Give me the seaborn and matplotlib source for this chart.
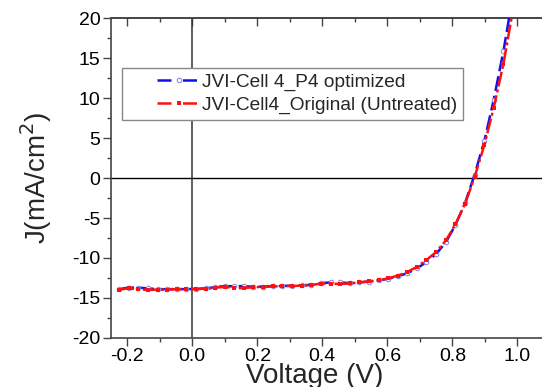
import numpy as np
import pandas as pd
import seaborn as sns
from matplotlib import pyplot as plt
from matplotlib.legend_handler import HandlerLine2D
from matplotlib.lines import Line2D
from matplotlib.ticker import MultipleLocator

# J-V data (voltage in V, current density in mA/cm2)
voltage = [-0.225, -0.196, -0.166, -0.137, -0.107, -0.078, -0.048, -0.019,
           0.011, 0.041, 0.070, 0.100, 0.129, 0.159, 0.188, 0.218, 0.247,
           0.277, 0.307, 0.336, 0.366, 0.395, 0.425, 0.454, 0.484, 0.513,
           0.543, 0.573, 0.602, 0.632, 0.661, 0.691, 0.720, 0.750, 0.780,
           0.809, 0.839, 0.868, 0.898, 0.927, 0.957, 0.986]

j_original = [-13.95, -13.8, -13.9, -14.0, -13.95, -13.95, -13.9, -13.9,
              -13.88, -13.85, -13.72, -13.6, -13.78, -13.75, -13.65, -13.6,
              -13.55, -13.52, -13.5, -13.45, -13.38, -13.2, -13.2, -13.25,
              -13.18, -13.05, -12.92, -12.78, -12.55, -12.2, -11.75, -11.1,
              -10.25, -9.25, -7.8, -5.8, -3.2, 0.1, 4.1, 8.8, 14.3, 21.0]

j_optimized = [-13.9, -13.7, -13.7, -13.8, -13.9, -13.9, -13.88, -13.9,
               -13.85, -13.8, -13.65, -13.5, -13.55, -13.5, -13.62, -13.58,
               -13.52, -13.5, -13.45, -13.42, -13.35, -13.15, -13.05, -13.05,
               -13.15, -13.05, -12.95, -12.8, -12.6, -12.3, -11.9, -11.3,
               -10.5, -9.5, -8.0, -5.9, -3.1, 0.4, 4.6, 9.8, 15.9, 22.8]

label_opt = "JVI-Cell 4_P4 optimized"
label_orig = "JVI-Cell4_Original (Untreated)"

blue = "#1010ee"
red = "#ff1010"

df = pd.DataFrame({"V": voltage + voltage,
                   "J": j_optimized + j_original,
                   "cell": [label_opt] * len(voltage) + [label_orig] * len(voltage)})

sns.set_style("ticks")
plt.rcParams["font.family"] = ["Liberation Sans", "DejaVu Sans"]
plt.rcParams["axes.unicode_minus"] = False

fig = plt.figure(figsize=(5.42, 3.87), dpi=100)
ax = fig.add_axes([111 / 542, 49 / 387, 439 / 542, 320 / 387])

ax.axhline(0, color="black", lw=1.0, zorder=1)
ax.axvline(0, color="#333333", lw=1.1, zorder=1)

sns.lineplot(data=df[df.cell == label_opt], x="V", y="J", ax=ax,
             color=blue, lw=1.8, sort=False,
             marker="o", markersize=3.2, markerfacecolor="white",
             markeredgecolor="#8a8ad8", markeredgewidth=0.8, zorder=3)
ax.lines[-1].set_dashes((6, 2.0))
sns.lineplot(data=df[df.cell == label_orig], x="V", y="J", ax=ax,
             color=red, lw=1.8, sort=False,
             marker="s", markersize=3.2, markeredgewidth=0, zorder=4)
ax.lines[-1].set_dashes((6, 1.2, 1.2, 1.2))

ax.set_xlim(-0.25, 1.1)
ax.set_ylim(-20, 20)
ax.xaxis.set_major_locator(MultipleLocator(0.2))
ax.xaxis.set_minor_locator(MultipleLocator(0.1))
ax.yaxis.set_major_locator(MultipleLocator(5))
ax.yaxis.set_minor_locator(MultipleLocator(2.5))
ax.set_xticks(ax.get_xticks())
ax.set_xticklabels([f"{t:.1f}" for t in ax.get_xticks()])
ax.set_xlim(-0.25, 1.1)

spine_col = "#444444"
for s in ax.spines.values():
    s.set_color(spine_col)
    s.set_linewidth(1.2)
ax.spines["right"].set_visible(False)

ax.tick_params(which="both", direction="out", colors=spine_col,
               labelcolor="black", labelsize=14, width=1.0)
ax.tick_params(which="major", length=6)
ax.tick_params(which="minor", length=3)
ax.tick_params(axis="y", pad=1.5)
ax.tick_params(axis="x", pad=1.5)

top = ax.secondary_xaxis("top")
top.xaxis.set_major_locator(MultipleLocator(0.2))
top.xaxis.set_minor_locator(MultipleLocator(0.1))
top.tick_params(which="both", direction="in", colors=spine_col,
                labeltop=False, width=1.0)
top.tick_params(which="major", length=6)
top.tick_params(which="minor", length=3)
top.spines["top"].set_color(spine_col)
top.spines["top"].set_linewidth(1.2)

ax.set_xlabel("Voltage (V)", fontsize=20)
ax.xaxis.set_label_coords(0.465, -0.078)
ax.set_ylabel("J(mA/cm$^2$)", fontsize=20)
ax.yaxis.set_label_coords(-0.13, 0.5)


class ShiftedLine(HandlerLine2D):
    # leave an empty margin on the left of the legend handle
    def adjust_drawing_area(self, legend, orig_handle, xdescent, ydescent,
                            width, height, fontsize):
        xdescent, ydescent, width, height = super().adjust_drawing_area(
            legend, orig_handle, xdescent, ydescent, width, height, fontsize)
        shift = 1.55 * fontsize
        return xdescent - shift, ydescent, width - shift, height


# legend proxies: long dash, marker in the gap, long dash
h_opt = Line2D([], [], color=blue, lw=1.8, dashes=(5.6, 4.6),
               marker="o", markersize=3.2, markerfacecolor="white",
               markeredgecolor="#8a8ad8", markeredgewidth=0.8)
h_orig = Line2D([], [], color=red, lw=1.8, dashes=(5.6, 4.6),
                marker="s", markersize=3.2, markeredgewidth=0)
leg = ax.legend([h_opt, h_orig], [label_opt, label_orig], loc="upper left",
                bbox_to_anchor=(0.025, 0.844), borderaxespad=0,
                fontsize=13.8, numpoints=1, handlelength=3.75,
                handletextpad=0.15, borderpad=0.3, labelspacing=0.28,
                fancybox=False, framealpha=1, edgecolor="#888888",
                handler_map={h_opt: ShiftedLine(), h_orig: ShiftedLine()})
leg.get_frame().set_linewidth(1.0)

fig.savefig("out.png", dpi=100)
